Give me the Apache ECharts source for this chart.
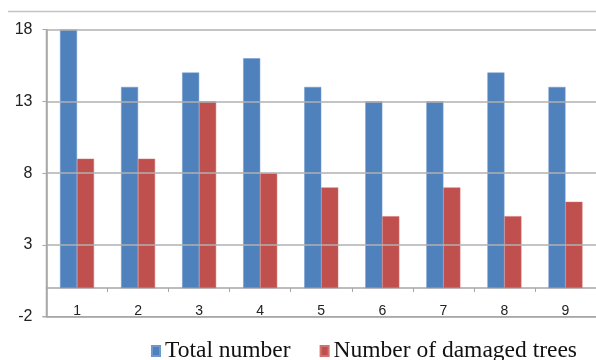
<!DOCTYPE html>
<html><head><meta charset="utf-8">
<script src="https://cdn.jsdelivr.net/npm/echarts@6/dist/echarts.min.js"></script>
<style>html,body{margin:0;padding:0;background:#fff}#c{width:596px;height:360px}</style>
</head><body><div id="c"></div>
<script>
const categories = ['1','2','3','4','5','6','7','8','9'];
const totalNumber = [18, 14, 15, 16, 14, 13, 13, 15, 14];
const damagedTrees = [9, 9, 13, 8, 7, 5, 7, 5, 6];
const yTicks = [-2, 3, 8, 13, 18];
const seriesNames = ['Total number', 'Number of damaged trees'];

const GRID_LEFT = 46.5, GRID_TOP = 29.5, GRID_BOTTOM = 43.3, H = 360;
const chart = echarts.init(document.getElementById('c'), null, {renderer: 'canvas'});
chart.setOption({
  animation: false,
  backgroundColor: '#fff',
  grid: {left: GRID_LEFT, right: -4, top: GRID_TOP, bottom: GRID_BOTTOM, containLabel: false},
  legend: {
    left: 146, top: 334,
    itemWidth: 8, itemHeight: 10, itemGap: 29,
    icon: 'rect',
    textStyle: {fontFamily: 'Liberation Serif', fontSize: 23.5, color: '#111'},
    data: seriesNames
  },
  xAxis: {
    type: 'category', data: categories,
    axisLine: {onZero: true, lineStyle: {color: '#a6a6a6', width: 1.5}},
    axisTick: {show: true, length: 4, lineStyle: {color: '#a6a6a6'}},
    axisLabel: {margin: -13, fontFamily: 'Liberation Sans', fontSize: 14, color: '#222'}
  },
  yAxis: {
    type: 'value', min: -2, max: 18,
    axisLine: {show: true, lineStyle: {color: '#a6a6a6', width: 1.5}},
    axisTick: {show: true, length: 4, customValues: yTicks, lineStyle: {color: '#a6a6a6'}},
    axisLabel: {customValues: yTicks, margin: 14, fontFamily: 'Liberation Sans', fontSize: 16, color: '#222'},
    splitLine: {show: false}
  },
  graphic: [{
    type: 'line', z: 100, shape: {x1: 8, y1: 11.5, x2: 596, y2: 11.5},
    style: {stroke: '#c4c4c4', lineWidth: 1.5}
  }, {
    type: 'line', z: 100, shape: {x1: GRID_LEFT - 4, y1: H - GRID_BOTTOM, x2: 596, y2: H - GRID_BOTTOM},
    style: {stroke: '#a8a8a8', lineWidth: 1.5}
  }, {
    type: 'line', z: 100, shape: {x1: GRID_LEFT, y1: GRID_TOP, x2: GRID_LEFT, y2: H - GRID_BOTTOM},
    style: {stroke: '#a8a8a8', lineWidth: 1.5}
  }],
  series: [
    {name: seriesNames[0], type: 'bar', data: totalNumber, barWidth: 17, barGap: '0%',
     itemStyle: {color: '#4F81BD', borderColor: '#6d98cc', borderWidth: 0.5},
     markLine: {silent: true, symbol: 'none', label: {show: false},
       lineStyle: {color: '#b0b0b0', type: 'solid', width: 1.5},
       data: yTicks.map(v => ({yAxis: v}))}},
    {name: seriesNames[1], type: 'bar', data: damagedTrees, barWidth: 17,
     itemStyle: {color: '#C0504D', borderColor: '#d07370', borderWidth: 0.5}}
  ]
});
</script></body></html>
